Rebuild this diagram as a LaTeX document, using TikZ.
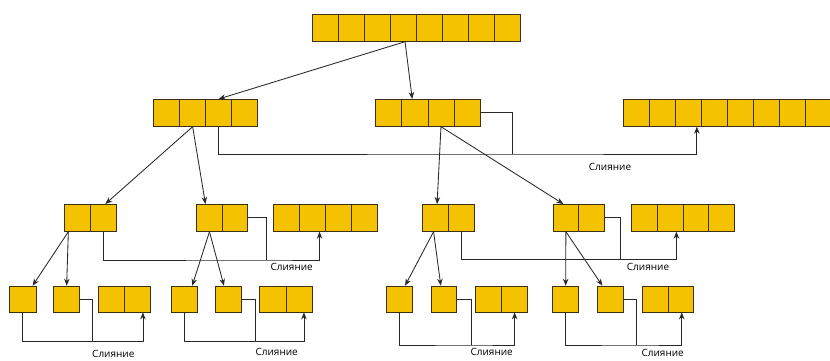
\documentclass[tikz,border=0pt]{standalone}
\usepackage{fontspec}
\setmainfont{Open Sans}
\usetikzlibrary{arrows.meta}
\definecolor{cellfill}{RGB}{244,194,0}
\definecolor{celledge}{RGB}{60,48,18}
\definecolor{linecol}{RGB}{40,40,40}
\tikzset{
  cell/.style={draw=celledge, line width=0.7pt, fill=cellfill, anchor=north west,
    inner sep=0pt, minimum height=27pt},
  leaf/.style={cell, minimum height=26pt},
  conn/.style={draw=linecol, line width=0.85pt},
  arr/.style={conn, -{Stealth[length=7pt,width=5.5pt]}},
  lbl/.style={font=\fontsize{10}{12}\selectfont, inner sep=0pt}
}
% row of n cells: name, left x, top y, count, cell width, style
\newcommand\cellrow[6]{%
  \foreach \k in {1,...,#4}
    \node[#6, minimum width=#5pt] (#1\k) at ({#2+(\k-1)*#5}, #3) {};}
\begin{document}
\begin{tikzpicture}[x=1pt,y=-1pt]
\useasboundingbox (0,0) rectangle (830,361);

% level 0
\cellrow{t}{311.7}{14}{8}{26}{cell}
% level 1
\cellrow{a}{153.3}{99}{4}{26}{cell}
\cellrow{b}{375}{99}{4}{26.25}{cell}
\cellrow{m}{622.5}{99}{8}{26}{cell}
% level 2
\cellrow{c}{64}{204}{2}{26}{cell}
\cellrow{d}{195.7}{204}{2}{25.8}{cell}
\cellrow{p}{272.7}{204}{4}{26}{cell}
\cellrow{e}{422.3}{204}{2}{25.85}{cell}
\cellrow{f}{552.7}{204}{2}{25.65}{cell}
\cellrow{q}{630.7}{204}{4}{25.9}{cell}
% level 3
\cellrow{ga}{9}{285.7}{1}{26.5}{leaf}
\cellrow{gb}{53.3}{285.7}{1}{26}{leaf}
\cellrow{gm}{98.3}{285.7}{2}{25.85}{leaf}
\cellrow{ha}{171}{285.7}{1}{25.7}{leaf}
\cellrow{hb}{215}{285.7}{1}{26.2}{leaf}
\cellrow{hm}{259.3}{285.7}{2}{26.2}{leaf}
\cellrow{ia}{385.7}{285.7}{1}{26}{leaf}
\cellrow{ib}{430.7}{285.7}{1}{25.5}{leaf}
\cellrow{im}{475}{285.7}{2}{25.85}{leaf}
\cellrow{ja}{552.3}{285.7}{1}{26}{leaf}
\cellrow{jb}{597.3}{285.7}{1}{25.5}{leaf}
\cellrow{jm}{641.7}{285.7}{2}{25.8}{leaf}

% splitting arrows
\draw[arr] ([xshift=2pt]t4.south) -- (a3.north);
\draw[arr] ([xshift=2pt]t4.south) -- ([xshift=-2.5pt]b2.north);

\draw[arr] (a2.south) -- ([xshift=2pt]c2.north);
\draw[arr] (a2.south) -- ([xshift=-3.5pt]d1.north);
\draw[arr] (b3.south) -- ([xshift=1.5pt]e1.north);
\draw[arr] (b3.south) -- ([xshift=-2.5pt]f1.north);

\draw[arr] ([xshift=-9pt]c1.south) -- ([xshift=10pt]ga1.north);
\draw[arr] ([xshift=-9pt]c1.south) -- (gb1.north);
\draw[arr] ([xshift=0.5pt]d1.south) -- ([xshift=8pt]ha1.north);
\draw[arr] ([xshift=0.5pt]d1.south) -- ([xshift=-4.5pt]hb1.north);
\draw[arr] ([xshift=-2pt]e1.south) -- ([xshift=6pt]ia1.north);
\draw[arr] ([xshift=-2pt]e1.south) -- ([xshift=-3pt]ib1.north);
\draw[arr] (f1.south) -- (ja1.north);
\draw[arr] (f1.south) -- ([xshift=-8pt]jb1.north);

% merge connectors, level 1
\coordinate (j0) at (512.7,154);
\draw[conn] (b4.east) -| (j0);
\draw[arr] (a3.south) |- (j0) -| ([xshift=9pt]m3.south);
\node[lbl] (l0) at (610,167) {Слияние};

% merge connectors, level 2
\coordinate (j1) at (266,260);
\draw[conn] (d2.east) -| (j1);
\draw[arr] (c2.south) |- (j1) -| ([xshift=7.5pt]p2.south);
\node[lbl] (l1) at (291.7,267) {Слияние};

\coordinate (j2) at (620,259.5);
\draw[conn] (f2.east) -| (j2);
\draw[arr] (e2.south) |- (j2) -| ([xshift=6.5pt]q2.south);
\node[lbl] (l2) at (648,266.5) {Слияние};

% merge connectors, level 3
\coordinate (j3) at (92.7,341.5);
\draw[conn] (gb1.east) -| (j3);
\draw[arr] ([xshift=-0.5pt]ga1.south) |- (j3) -| ([xshift=5.5pt]gm2.south);
\node[lbl] (l3) at (113.3,353.5) {Слияние};

\coordinate (j4) at (255,341.5);
\draw[conn] (hb1.east) -| (j4);
\draw[arr] (ha1.south) |- (j4) -| ([xshift=5pt]hm2.south);
\node[lbl] (l4) at (276.7,352) {Слияние};

\coordinate (j5) at (471,345);
\draw[conn] (ib1.east) -| (j5);
\draw[arr] ([xshift=0.5pt]ia1.south) |- (j5) -| ([xshift=0.5pt]im2.south);
\node[lbl] (l5) at (491.7,351.7) {Слияние};

\coordinate (j6) at (636.7,345);
\draw[conn] (jb1.east) -| (j6);
\draw[arr] ([xshift=-0.3pt]ja1.south) |- (j6) -| ([xshift=1pt]jm2.south);
\node[lbl] (l6) at (662.7,352.7) {Слияние};
\end{tikzpicture}
\end{document}
